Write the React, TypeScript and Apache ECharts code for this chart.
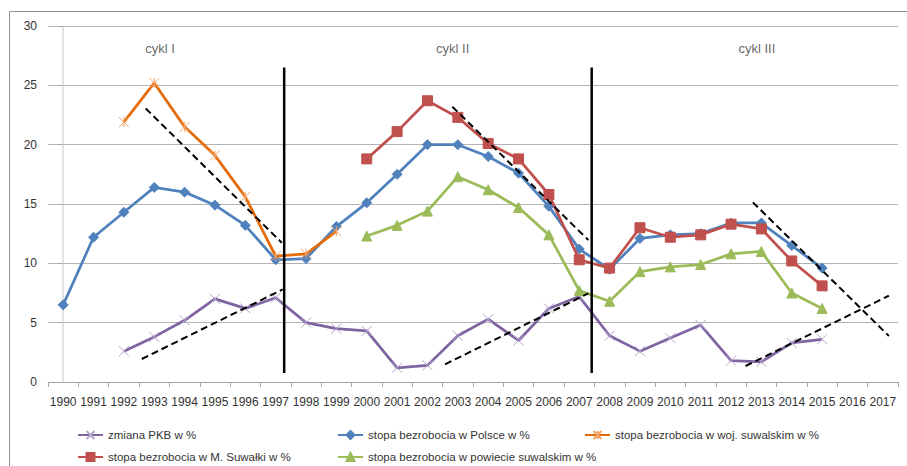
import React, { useEffect, useRef } from "react";
import * as echarts from "echarts";

const years = [
  "1990", "1991", "1992", "1993", "1994", "1995", "1996", "1997", "1998", "1999",
  "2000", "2001", "2002", "2003", "2004", "2005", "2006", "2007", "2008", "2009",
  "2010", "2011", "2012", "2013", "2014", "2015", "2016", "2017",
];

const seriesNames = [
  "zmiana PKB w %",
  "stopa bezrobocia w Polsce w %",
  "stopa bezrobocia w woj. suwalskim w %",
  "stopa bezrobocia w M. Suwałki w %",
  "stopa bezrobocia w powiecie suwalskim w %",
];

const pkb = [
  null, null, 2.6, 3.8, 5.2, 7.0, 6.2, 7.1, 5.0, 4.5,
  4.3, 1.2, 1.4, 3.9, 5.3, 3.5, 6.2, 7.2, 3.9, 2.6,
  3.7, 4.8, 1.8, 1.7, 3.3, 3.6, null, null,
];
const polska = [
  6.5, 12.2, 14.3, 16.4, 16.0, 14.9, 13.2, 10.3, 10.4, 13.1,
  15.1, 17.5, 20.0, 20.0, 19.0, 17.6, 14.8, 11.2, 9.5, 12.1,
  12.4, 12.5, 13.4, 13.4, 11.5, 9.6, null, null,
];
const woj = [
  null, null, 21.9, 25.2, 21.5, 19.1, 15.6, 10.6, 10.8, 12.7,
  null, null, null, null, null, null, null, null, null, null,
  null, null, null, null, null, null, null, null,
];
const suwalki = [
  null, null, null, null, null, null, null, null, null, null,
  18.8, 21.1, 23.7, 22.3, 20.1, 18.8, 15.8, 10.3, 9.6, 13.0,
  12.2, 12.4, 13.3, 12.9, 10.2, 8.1, null, null,
];
const powiat = [
  null, null, null, null, null, null, null, null, null, null,
  12.3, 13.2, 14.4, 17.3, 16.2, 14.7, 12.4, 7.7, 6.8, 9.3,
  9.7, 9.9, 10.8, 11.0, 7.5, 6.2, null, null,
];

// trend lines: [categoryIndex, value] pairs (index 0 = 1990)
const trendLines = [
  [[2.72, 23.05], [7.2, 11.74]],
  [[2.59, 1.94], [7.23, 7.8]],
  [[12.82, 23.2], [17.3, 11.96]],
  [[12.58, 1.49], [17.3, 7.47]],
  [[22.72, 15.14], [27.2, 3.88]],
  [[22.48, 1.35], [27.2, 7.27]],
];
const dividerX = [7.28, 17.41];
const dividerY = [0.76, 26.5];

const cycleNames = ["cykl I", "cykl II", "cykl III"];
const cycleX = [3.19, 12.83, 22.85];
const cycleY = 28.14;

const yTicks = { min: 0, max: 30, interval: 5 };

const FONT = "'Liberation Sans', Arial, sans-serif";

export default function App() {
  const ref = useRef<HTMLDivElement>(null);
  useEffect(() => {
    if (!ref.current) return;
    const chart = echarts.init(ref.current, null, { renderer: "svg" });

    const lineCommon = (name: string, data: any[], color: string, symbol: string, size: number, itemStyle: any, z: number) => ({
      name,
      type: "line",
      data,
      xAxisIndex: 0,
      symbol,
      symbolSize: size,
      showSymbol: true,
      connectNulls: false,
      lineStyle: { color, width: 2.75 },
      itemStyle,
      z,
    });

    const series: any[] = [
      lineCommon(seriesNames[0], pkb, "#8064A2", "path://M0 0L10 10M10 0L0 10", 10,
        { color: "#8064A2", borderColor: "#B7A6CF", borderWidth: 1 }, 3),
      lineCommon(seriesNames[1], polska, "#4F81BD", "diamond", 10,
        { color: "#4F81BD", borderColor: "#4F81BD", borderWidth: 1 }, 4),
      lineCommon(seriesNames[2], woj, "#E46C0A", "path://M0 0L10 10M10 0L0 10M5 0L5 10", 10,
        { color: "#E46C0A", borderColor: "#F5A46A", borderWidth: 1 }, 5),
      lineCommon(seriesNames[3], suwalki, "#C0504D", "rect", 10,
        { color: "#C0504D", borderColor: "#C0504D", borderWidth: 1 }, 6),
      lineCommon(seriesNames[4], powiat, "#9BBB59", "triangle", 10,
        { color: "#9BBB59", borderColor: "#9BBB59", borderWidth: 1 }, 7),
    ];

    trendLines.forEach((seg, i) => {
      series.push({
        name: "trend" + i,
        type: "line",
        xAxisIndex: 1,
        data: seg,
        symbol: "none",
        silent: true,
        lineStyle: { color: "#000", width: 2, type: [7, 4] },
        z: 8,
      });
    });
    dividerX.forEach((x, i) => {
      series.push({
        name: "divider" + i,
        type: "line",
        xAxisIndex: 1,
        data: [[x, dividerY[0]], [x, dividerY[1]]],
        symbol: "none",
        silent: true,
        lineStyle: { color: "#000", width: 2.5 },
        z: 9,
      });
    });
    series.push({
      name: "cycles",
      type: "scatter",
      xAxisIndex: 1,
      data: cycleX.map((x) => [x, cycleY]),
      symbolSize: 1,
      itemStyle: { color: "rgba(0,0,0,0)" },
      silent: true,
      label: {
        show: true,
        position: "inside",
        formatter: (p: any) => cycleNames[p.dataIndex],
        fontFamily: FONT,
        fontSize: 13,
        color: "#404040",
      },
    });

    const legendPos = [
      [72, 424], [332, 424], [579, 424], [72, 446], [332, 446],
    ];

    chart.setOption({
      animation: false,
      backgroundColor: "#fff",
      textStyle: { fontFamily: FONT },
      grid: { left: 48, right: 9, top: 26, bottom: 84, containLabel: false },
      legend: seriesNames.map((n, i) => ({
        data: [n],
        left: legendPos[i][0],
        top: legendPos[i][1],
        itemWidth: 25,
        itemHeight: 10,
        itemGap: 0,
        selectedMode: false,
        textStyle: { fontFamily: FONT, fontSize: 11.5, color: "#333" },
      })),
      graphic: [
        {
          type: "rect",
          shape: { x: 9.5, y: 11.5, width: 1000, height: 1000 },
          style: { fill: "none", stroke: "#8f8f8f", lineWidth: 1 },
          silent: true,
          z: -10,
        },
      ],
      xAxis: [
        {
          type: "category",
          data: years,
          boundaryGap: true,
          axisLine: { show: true, lineStyle: { color: "#a6a6a6", width: 1 } },
          axisTick: { show: true, length: 5, lineStyle: { color: "#a6a6a6" } },
          axisLabel: { color: "#333", fontSize: 12, margin: 14, interval: 0, fontFamily: FONT },
          splitLine: { show: false },
        },
        {
          type: "value",
          min: -0.5,
          max: 27.5,
          show: false,
          splitLine: { show: false },
        },
      ],
      yAxis: {
        type: "value",
        min: yTicks.min,
        max: yTicks.max,
        interval: yTicks.interval,
        axisLine: { show: true, lineStyle: { color: "#d9d9d9", width: 1.5 } },
        axisTick: { show: true, length: 5, lineStyle: { color: "#a6a6a6" } },
        axisLabel: { color: "#333", fontSize: 12, margin: 11, fontFamily: FONT },
        splitLine: { show: true, lineStyle: { color: "#b3b3b3", width: 1 } },
      },
      series,
    });
    return () => chart.dispose();
  }, []);
  return (
    <div
      ref={ref}
      style={{ position: "absolute", left: 0, top: 0, width: 907, height: 466 }}
    />
  );
}
